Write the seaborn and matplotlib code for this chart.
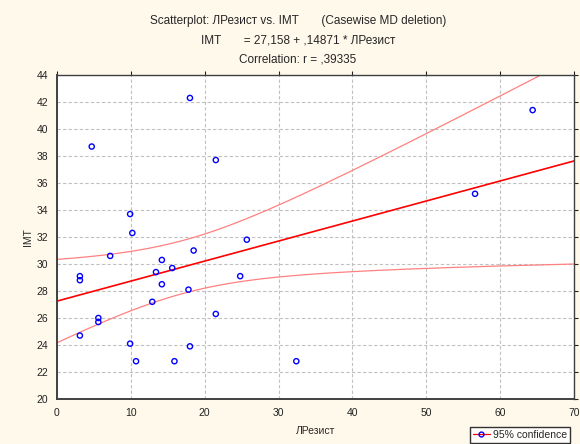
import numpy as np
import pandas as pd
import matplotlib
matplotlib.use("Agg")
import matplotlib.pyplot as plt
import seaborn as sns
from matplotlib.lines import Line2D

# ─────────────────────────────────────────────
# DATA
# ─────────────────────────────────────────────
lrezist = [4.7, 18.0, 21.5, 9.9, 10.2, 7.2, 14.2, 18.5, 25.7, 15.6,
           13.4, 3.1, 3.1, 14.2, 17.8, 24.8, 12.9, 5.6, 5.6, 3.1,
           21.5, 9.9, 18.0, 10.7, 15.9, 32.4, 56.6, 64.4]
imt = [38.7, 42.3, 37.7, 33.7, 32.3, 30.6, 30.3, 31.0, 31.8, 29.7,
       29.4, 29.1, 28.8, 28.5, 28.1, 29.1, 27.2, 26.0, 25.7, 24.7,
       26.3, 24.1, 23.9, 22.8, 22.8, 22.8, 35.2, 41.4]

x_ticks = [0, 10, 20, 30, 40, 50, 60, 70]
y_ticks = [20, 22, 24, 26, 28, 30, 32, 34, 36, 38, 40, 42, 44]

title_lines = [
    "Scatterplot: ЛРезист vs. IMT       (Casewise MD deletion)",
    "IMT       = 27,158 + ,14871 * ЛРезист",
    "Correlation: r = ,39335",
]

df = pd.DataFrame({"ЛРезист": lrezist, "IMT": imt})

# ─────────────────────────────────────────────
# FIT + 95% CONFIDENCE BAND
# ─────────────────────────────────────────────
x = df["ЛРезист"].to_numpy()
y = df["IMT"].to_numpy()
n = len(x)
slope, intercept = np.polyfit(x, y, 1)
resid = y - (intercept + slope * x)
s = np.sqrt((resid ** 2).sum() / (n - 2))
t = 2.056  # t(0.975, 26)
xx = np.linspace(0, 70, 300)
yy = intercept + slope * xx
se = s * np.sqrt(1 / n + (xx - x.mean()) ** 2 / ((x - x.mean()) ** 2).sum())
fit = pd.DataFrame({"x": xx, "fit": yy, "lo": yy - t * se, "hi": yy + t * se})

# ─────────────────────────────────────────────
# PLOT
# ─────────────────────────────────────────────
sns.set_style("white")
plt.rcParams["font.family"] = ["Liberation Sans", "DejaVu Sans"]

bg = "#fff9ec"
fig = plt.figure(figsize=(5.8, 4.44), dpi=100, facecolor=bg)
ax = fig.add_axes([57 / 580, 1 - 399 / 444, 517 / 580, 324 / 444])
ax.set_facecolor("white")

sns.lineplot(data=fit, x="x", y="hi", ax=ax, color="#ff8080", lw=0.9)
sns.lineplot(data=fit, x="x", y="lo", ax=ax, color="#ff8080", lw=0.9)
sns.lineplot(data=fit, x="x", y="fit", ax=ax, color="#ff0000", lw=1.2)
sns.scatterplot(data=df, x="ЛРезист", y="IMT", ax=ax, marker="o",
                facecolor="none", edgecolor="#0000ff", linewidth=1.0, s=14,
                zorder=5)

ax.set_xlim(0, 70)
ax.set_ylim(20, 44)
ax.set_xticks(x_ticks)
ax.set_yticks(y_ticks)
ax.grid(True, ls=(0, (3, 2)), color="#c0c0c0", lw=0.8)
ax.tick_params(axis="both", labelsize=7.5, colors="#222222", length=3,
               direction="out")
ax.tick_params(axis="x", top=True)
ax.tick_params(axis="y", right=True)
for sp in ax.spines.values():
    sp.set_color("#404040")
    sp.set_linewidth(1.0)
ax.spines["left"].set_linewidth(1.4)
ax.spines["bottom"].set_linewidth(1.4)

ax.set_xlabel("ЛРезист", fontsize=7.5, labelpad=6)
ax.set_ylabel("IMT", fontsize=7.5, labelpad=2)

for i, line in enumerate(title_lines):
    fig.text(298 / 580, 1 - (21 + 19.5 * i) / 444, line, ha="center",
             va="center", fontsize=8.5)

handle = Line2D([0], [0], color="#ff0000", lw=0.9, marker="o",
                markerfacecolor="none", markeredgecolor="#0000ff",
                markersize=3.5)
fig.legend([handle], ["95% confidence"], loc="lower left",
           bbox_to_anchor=(470 / 580, 0.002), fontsize=7.5,
           frameon=True, fancybox=False, edgecolor="#000000",
           handlelength=1.6, handletextpad=0.3, borderpad=0.3,
           borderaxespad=0)

fig.savefig("out.png", dpi=100, facecolor=bg)
